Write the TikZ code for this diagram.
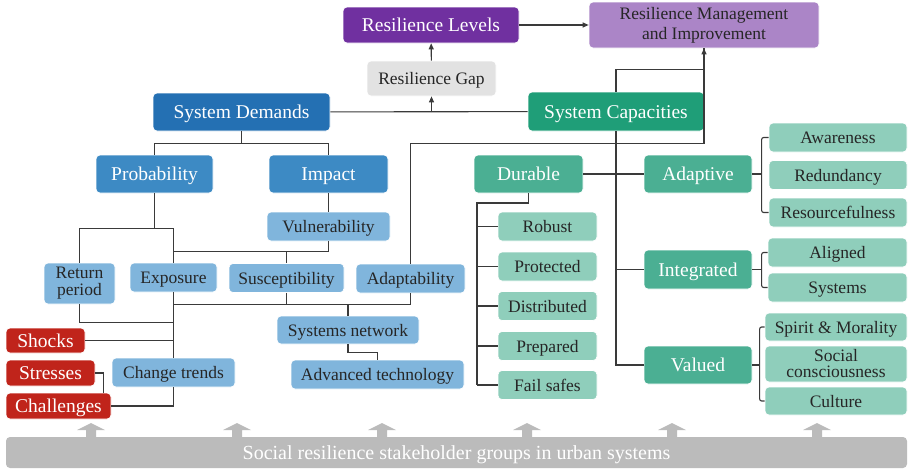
\documentclass[tikz,border=0pt]{standalone}
\usepackage{fontspec}
\setmainfont{Liberation Serif}
\usetikzlibrary{arrows.meta}

\definecolor{levelpurple}{HTML}{7030A0}
\definecolor{mgmtpurple}{HTML}{AB85C7}
\definecolor{gapgray}{HTML}{E2E2E2}
\definecolor{demandblue}{HTML}{2470B3}
\definecolor{probblue}{HTML}{3D8AC4}
\definecolor{lightblue}{HTML}{80B5DC}
\definecolor{capgreen}{HTML}{1F9E78}
\definecolor{midgreen}{HTML}{4BAF93}
\definecolor{lightgreen}{HTML}{8FCEBB}
\definecolor{alertred}{HTML}{C0241B}
\definecolor{bargray}{HTML}{BBBBBB}
\definecolor{linkgray}{HTML}{3A3A3A}

\begin{document}
\begin{tikzpicture}[x=1pt,y=-1pt,
  box/.style={rounded corners=4pt,draw=white,line width=0.7pt,inner sep=0pt,align=center},
  bigbox/.style={box,text=white,minimum height=38pt,text height=17pt,text depth=4pt,
                 font=\fontsize{19.5}{20}\selectfont},
  subbox/.style={box,text=black!85,minimum height=29pt,text height=16pt,text depth=4pt,
                 font=\fontsize{17.5}{16}\selectfont},
  redbox/.style={box,fill=alertred,text=white,minimum height=26pt,text height=17pt,text depth=4pt,
                 font=\fontsize{19.5}{20}\selectfont},
  link/.style={draw=linkgray,line width=1.1pt},
  tip/.style={-{Triangle[length=6pt,width=5pt]}}
]
\useasboundingbox (0,0) rectangle (908,469);

  % Top row
  \node[bigbox,fill=levelpurple,minimum width=176pt,minimum height=36pt] (levels) at (431,25) {Resilience Levels};
  \node[box,fill=mgmtpurple,text=black!85,minimum width=230pt,minimum height=46pt,
        font=\fontsize{17.5}{20}\selectfont] (mgmt) at (704,25) {Resilience Management\\and Improvement};
  \node[subbox,fill=gapgray,minimum width=129pt,minimum height=35pt] (gap) at (431.5,78.5) {Resilience Gap};

  % Demands and capacities
  \node[bigbox,fill=demandblue,minimum width=177pt] (demands) at (241.5,112) {System Demands};
  \node[bigbox,fill=capgreen,minimum width=176pt,minimum height=39pt] (capacities) at (616,111.5) {System Capacities};

  % Demand side
  \node[bigbox,fill=probblue,minimum width=117pt] (probability) at (154.5,174) {Probability};
  \node[bigbox,fill=probblue,minimum width=119pt] (impact) at (328.5,174) {Impact};
  \node[subbox,fill=lightblue,minimum width=123pt] (vulner) at (328.5,226.5) {Vulnerability};
  \node[subbox,fill=lightblue,minimum width=71pt,minimum height=41pt,text height={},text depth={},
        font=\fontsize{17.5}{17}\selectfont] (returnp) at (79.5,283.5) {Return\\period};
  \node[subbox,fill=lightblue,minimum width=87pt] (exposure) at (173.5,277.5) {Exposure};
  \node[subbox,fill=lightblue,minimum width=115pt] (suscept) at (286.5,278) {Susceptibility};
  \node[subbox,fill=lightblue,minimum width=109pt] (adapt) at (410.5,278.5) {Adaptability};
  \node[subbox,fill=lightblue,minimum width=142pt,minimum height=28pt] (sysnet) at (348,330) {Systems network};
  \node[subbox,fill=lightblue,minimum width=173pt] (advtech) at (377.5,374.5) {Advanced technology};
  \node[subbox,fill=lightblue,minimum width=123pt] (trends) at (173.5,372.5) {Change trends};
  \node[redbox,minimum width=79pt,minimum height=25pt] (shocks) at (45.5,340.5) {Shocks};
  \node[redbox,minimum width=89pt] (stresses) at (50.5,373) {Stresses};
  \node[redbox,minimum width=105pt] (challenges) at (58.5,406) {Challenges};

  % Capacity side
  \node[bigbox,fill=midgreen,minimum width=109pt] (durable) at (528.5,174) {Durable};
  \node[bigbox,fill=midgreen,minimum width=108pt] (adaptive) at (698,174) {Adaptive};
  \node[bigbox,fill=midgreen,minimum width=108pt,minimum height=39pt] (integrated) at (698,269.5) {Integrated};
  \node[bigbox,fill=midgreen,minimum width=108pt] (valued) at (698,365) {Valued};

  \foreach \name/\y/\txt in {robust/226.5/Robust, protected/266.5/Protected, distributed/306/Distributed,
                             prepared/346/Prepared, failsafe/385/Fail safes}
    \node[subbox,fill=lightgreen,minimum width=99pt] (\name) at (547.5,\y) {\txt};

  \node[subbox,fill=lightgreen,minimum width=138pt] (awareness) at (838,137.5) {Awareness};
  \node[subbox,fill=lightgreen,minimum width=138pt] (redundancy) at (838,175) {Redundancy};
  \node[subbox,fill=lightgreen,minimum width=138pt] (resourceful) at (838,212.5) {Resourcefulness};
  \node[subbox,fill=lightgreen,minimum width=139pt] (aligned) at (837.5,252.5) {Aligned};
  \node[subbox,fill=lightgreen,minimum width=139pt] (systems) at (837.5,287.5) {Systems};
  \node[subbox,fill=lightgreen,minimum width=142pt,minimum height=28pt] (spirit) at (836,327) {Spirit \& Morality};
  \node[subbox,fill=lightgreen,minimum width=142pt,minimum height=36pt,text height={},text depth={},
        font=\fontsize{17.5}{16}\selectfont] (social) at (836,364) {Social\\consciousness};
  \node[subbox,fill=lightgreen,minimum width=142pt,minimum height=28pt] (culture) at (836,401) {Culture};

  % Stakeholder base
  \node[box,draw=none,fill=bargray,text=white,minimum width=901pt,minimum height=31pt,
        text height=17pt,text depth=4pt,
        font=\fontsize{20}{20}\selectfont] (base) at (456.5,452.5) {Social resilience stakeholder groups in urban systems};
  \foreach \x in {91,237,382,527,672,817}
    \fill[bargray] (\x-5,437) -- (\x-5,430) -- (\x-14,430) -- (\x,423) -- (\x+14,430) -- (\x+5,430) -- (\x+5,437) -- cycle;

  % Top connectors
  \draw[link,tip] (levels) -- (mgmt);
  \draw[link,tip] (gap) -- (levels);
  \draw[link] (demands) -- (capacities);
  \draw[link,tip] (gap.south |- demands.east) -- (gap.south);
  \draw[link,tip] (capacities.north) -- ++(0,-22) -| (mgmt.south);
  \draw[link] (adapt.north) -- ++(0,-120.5) -| (mgmt.south);

  % Demand tree
  \draw[link] (demands.south) -- ++(0,12) -| (probability.north);
  \draw[link] (demands.south) ++(0,12) -| (impact.north);
  \draw[link] (impact) -- (vulner);
  \draw[link] (probability.south) -- ++(0,35) -| (returnp.north);
  \draw[link] (probability.south) ++(0,35) -| (exposure.north);
  \draw[link] (vulner.south) -- ++(0,10) -| (exposure.north);
  \draw[link] (vulner.south) ++(0,10) -| (suscept.north);
  \draw[link] (exposure.south) -- ++(0,12) -| (adapt.south);
  \draw[link] (suscept.south) -- ++(0,12);
  \draw[link] (sysnet.north) -- ++(0,-12);
  \draw[link] (sysnet.south) -- ++(0,8) -| (advtech.north);
  \draw[link] (exposure) -- (trends);
  \draw[link] (returnp.south) -- ++(0,18) -| (trends.north);
  \draw[link] (shocks.east) -| (trends.north);
  \draw[link] (challenges.east) -| (trends.south);
  \draw[link] (stresses.east) -- ++(8,0) coordinate (bend) -- (bend |- challenges.north);

  % Capacity tree
  \draw[link] (capacities.south) |- (valued.west);
  \draw[link] (capacities.south |- integrated.west) -- (integrated.west);
  \draw[link] (durable.east) -- (adaptive.west);
  \coordinate (dtrunk) at (477,203);
  \draw[link] (durable.south) -- (durable.south |- dtrunk) -- (dtrunk) -- (dtrunk |- failsafe.west);
  \foreach \name in {robust,protected,distributed,prepared,failsafe}
    \draw[link] (dtrunk |- \name.west) -- (\name.west);

  % Brackets
  \draw[link] (adaptive.east) -- ++(10,0);
  \draw[link,rounded corners=2pt] (awareness.west) -- ++(-7,0) |- (resourceful.west);
  \draw[link] (integrated.east) -- ++(10,0);
  \draw[link,rounded corners=2pt] (aligned.west) -- ++(-6,0) |- (systems.west);
  \draw[link] (valued.east) -- ++(8,0);
  \draw[link,rounded corners=2pt] (spirit.west) -- ++(-5,0) |- (culture.west);
\end{tikzpicture}
\end{document}
